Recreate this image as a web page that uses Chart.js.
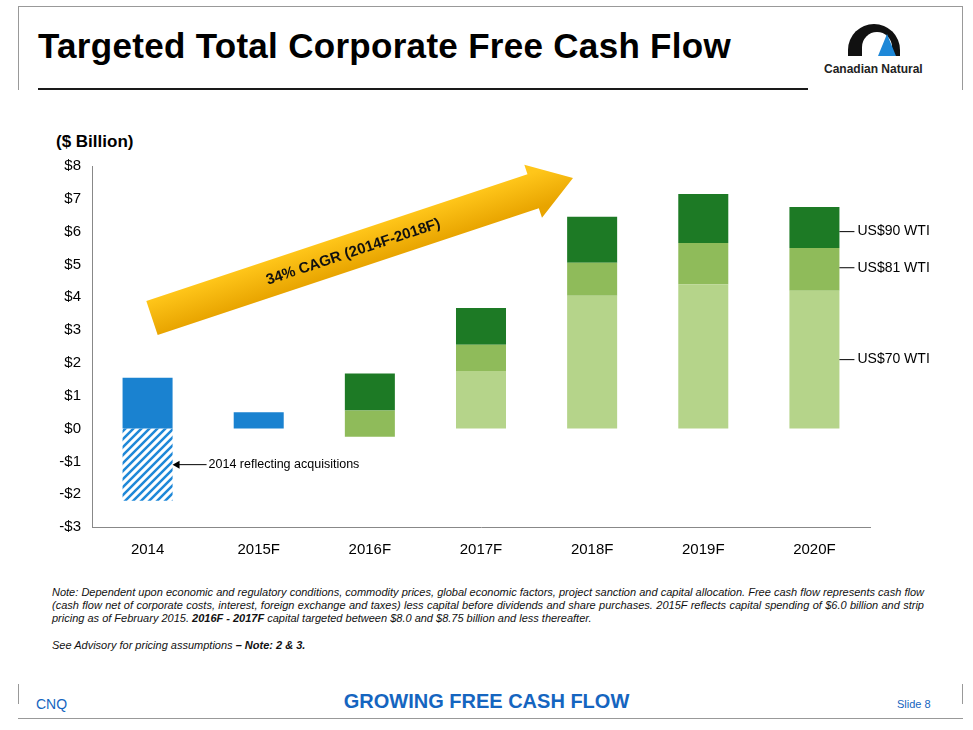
<!DOCTYPE html>
<html><head><meta charset="utf-8">
<script src="https://cdn.jsdelivr.net/npm/chart.js@4/dist/chart.umd.min.js"></script>
<style>
body{margin:0;width:973px;height:730px;background:#fff;font-family:"Liberation Sans",Arial,sans-serif;position:relative;overflow:hidden}
.abs{position:absolute}
</style></head><body>
<div class="abs" style="left:18px;top:6px;width:1px;height:84px;background:#999"></div>
<div class="abs" style="left:18px;top:6px;width:945px;height:1px;background:#999"></div>
<div class="abs" style="left:962px;top:6px;width:1px;height:84px;background:#999"></div>
<div class="abs" style="left:38px;top:26px;font-size:35px;font-weight:bold;color:#000;letter-spacing:0.3px">Targeted Total Corporate Free Cash Flow</div>
<div class="abs" style="left:38px;top:88px;width:770px;height:2px;background:#1a1a1a"></div>
<div class="abs" style="left:848px;top:24px;width:52px;height:32px;border-radius:26px 26px 0 0;background:#111"></div>
<div class="abs" style="left:862px;top:32px;width:30px;height:24px;border-radius:15px 15px 0 0;background:#fff"></div>
<div class="abs" style="left:878px;top:34px;width:18px;height:22px;background:#1e88d8;clip-path:polygon(50% 0,100% 100%,0 100%)"></div>
<div class="abs" style="left:824px;top:62px;font-size:12px;font-weight:bold;color:#222">Canadian Natural</div>
<div class="abs" style="left:56px;top:132px;font-size:17px;font-weight:bold">($ Billion)</div>
<div class="abs" style="left:18px;top:684px;width:1px;height:20px;background:#999"></div>
<div class="abs" style="left:962px;top:684px;width:1px;height:20px;background:#999"></div>
<div class="abs" style="left:18px;top:718px;width:945px;height:1px;background:#999"></div>
<div class="abs" style="left:36px;top:696px;font-size:14px;color:#1565c0">CNQ</div>
<div class="abs" style="left:0;width:973px;text-align:center;top:690px;font-size:20px;font-weight:bold;color:#1565c0">GROWING FREE CASH FLOW</div>
<div class="abs" style="left:897px;top:698px;font-size:11px;color:#1565c0">Slide 8</div>
<div class="abs" style="left:52px;top:586px;width:872px;font-size:11px;font-style:italic;line-height:13px;color:#111;text-align:justify">Note: Dependent upon economic and regulatory conditions, commodity prices, global economic factors, project sanction and capital allocation. Free cash flow represents cash flow (cash flow net of corporate costs, interest, foreign exchange and taxes) less capital before dividends and share purchases. 2015F reflects capital spending of $6.0 billion and strip pricing as of February 2015. <b>2016F - 2017F</b> capital targeted between $8.0 and $8.75 billion and less thereafter.</div>
<div class="abs" style="left:52px;top:639px;font-size:11px;font-style:italic;color:#111">See Advisory for pricing assumptions <b>– Note: 2 &amp; 3.</b></div>
<div class="abs" style="left:0;top:130px;width:973px;height:427px"><canvas id="c"></canvas></div>
<script>
const categories=["2014","2015F","2016F","2017F","2018F","2019F","2020F"];
const blueActual=[[0,1.55],[0,0.5],null,null,null,null,null];
const acquisitions=[[-2.2,0],null,null,null,null,null,null];
const wti70=[null,null,null,[0,1.75],[0,4.05],[0,4.4],[0,4.2]];
const wti81=[null,null,[-0.25,0.55],[1.75,2.55],[4.05,5.05],[4.4,5.65],[4.2,5.5]];
const wti90=[null,null,[0.55,1.68],[2.55,3.67],[5.05,6.45],[5.65,7.15],[5.5,6.75]];
const yTicks=["-$3","-$2","-$1","$0","$1","$2","$3","$4","$5","$6","$7","$8"];

function hatch(){const p=document.createElement('canvas');p.width=8;p.height=8;const g=p.getContext('2d');
g.fillStyle='#fff';g.fillRect(0,0,8,8);g.strokeStyle='#1e88d8';g.lineWidth=2.5;
g.beginPath();g.moveTo(0,8);g.lineTo(8,0);g.moveTo(-2,2);g.lineTo(2,-2);g.moveTo(6,10);g.lineTo(10,6);g.stroke();
return g.createPattern(p,'repeat');}
const ctx0=document.getElementById('c').getContext('2d');
const ds=(d,c)=>({data:d,backgroundColor:c,barPercentage:0.45,categoryPercentage:1,grouped:false});
const deco={id:'deco',afterDatasetsDraw(ch){const g=ch.ctx,x=ch.scales.x,y=ch.scales.y;
 g.save();
 const xe=x.getPixelForValue(6)+25;
 [[6.0,'US$90 WTI'],[4.9,'US$81 WTI'],[2.1,'US$70 WTI']].forEach(([v,t])=>{const py=y.getPixelForValue(v);
  g.strokeStyle='#000';g.lineWidth=1;g.beginPath();g.moveTo(xe,py);g.lineTo(xe+15,py);g.stroke();
  g.fillStyle='#000';g.font='14px "Liberation Sans",Arial';g.textBaseline='middle';g.fillText(t,xe+18,py);});
 const ax=x.getPixelForValue(0)+25,ay=y.getPixelForValue(-1.1);
 g.beginPath();g.moveTo(ax+34,ay);g.lineTo(ax+4,ay);g.stroke();
 g.beginPath();g.moveTo(ax,ay);g.lineTo(ax+7,ay-4);g.lineTo(ax+7,ay+4);g.closePath();g.fill();
 g.font='12.5px "Liberation Sans",Arial';g.fillText('2014 reflecting acquisitions',ax+36,ay);
 const x1=152,y1=188,x2=573,y2=48;const ang=Math.atan2(y2-y1,x2-x1),L=Math.hypot(x2-x1,y2-y1);
 g.translate(x1,y1);g.rotate(ang);
 const grd=g.createLinearGradient(0,-18,0,18);grd.addColorStop(0,'#ffc61a');grd.addColorStop(1,'#e8a400');
 g.fillStyle=grd;
 g.beginPath();g.moveTo(0,-18);g.lineTo(L-42,-18);g.lineTo(L-42,-28);g.lineTo(L,0);g.lineTo(L-42,28);g.lineTo(L-42,18);g.lineTo(0,18);g.closePath();g.fill();
 g.fillStyle='#111';g.font='bold 15px "Liberation Sans",Arial';g.textAlign='center';g.fillText('34% CAGR (2014F-2018F)',L/2-10,1);
 g.restore();}};
new Chart(ctx0,{type:'bar',data:{labels:categories,datasets:[
 ds(blueActual,'#1a82d0'),ds(acquisitions,hatch()),ds(wti70,'#b5d48a'),ds(wti81,'#8fbb5a'),ds(wti90,'#1d7a25')]},
 options:{responsive:true,maintainAspectRatio:false,animation:false,
 layout:{padding:{top:36,right:103,left:0,bottom:0}},
 plugins:{legend:{display:false},tooltip:{enabled:false}},
 scales:{x:{stacked:false,grid:{display:false},border:{color:'#888'},ticks:{color:'#000',font:{size:15,family:'"Liberation Sans",Arial'},padding:6},afterFit(s){s.height=30;}},
 y:{min:-3,max:8,grid:{display:false,drawTicks:true},border:{color:'#888'},
  ticks:{stepSize:1,color:'#000',font:{size:15,family:'"Liberation Sans",Arial'},callback:(v)=>yTicks[v+3]},afterFit(s){s.width=92;}}}},
 plugins:[deco]});
</script></body></html>
